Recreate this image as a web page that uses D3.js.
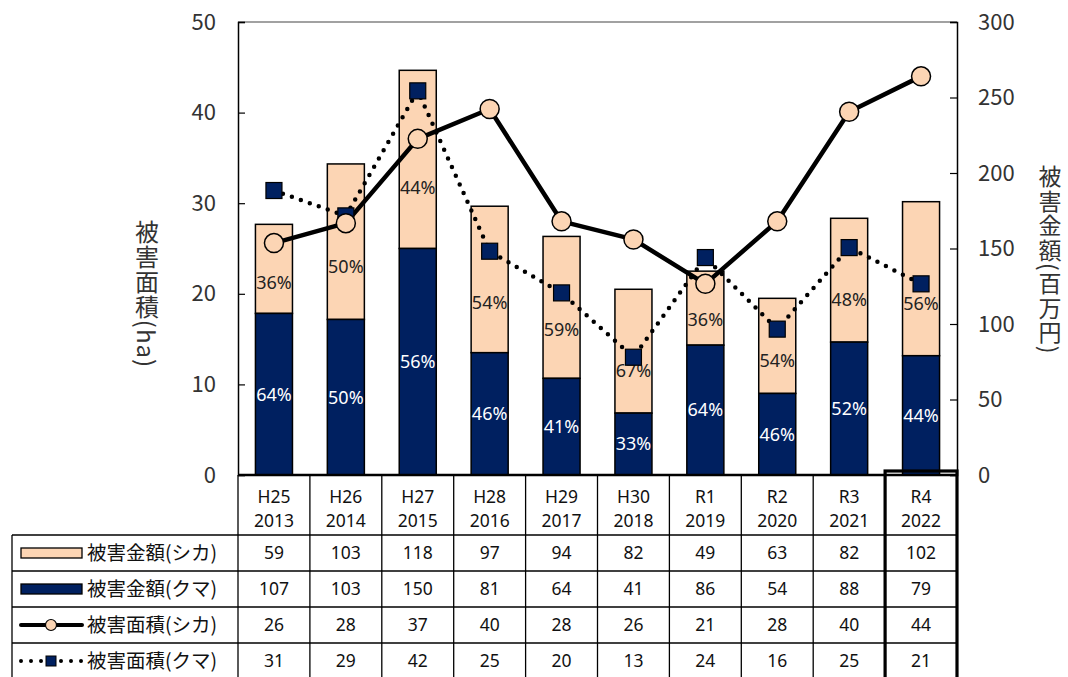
<!DOCTYPE html>
<html lang="ja">
<head>
<meta charset="UTF-8">
<title>被害面積・被害金額</title>
<style>
  body { margin: 0; background: #fff; }
  text { font-family: "Noto Sans CJK JP", "Noto Sans", sans-serif; }
  .num { font-family: "Noto Sans", "Open Sans", sans-serif; }
</style>
</head>
<body>
<svg width="1068" height="677"></svg>
<script src="https://d3js.org/d3.v7.min.js"></script>
<script>
  // values
  var eraLabels  = ['H25', 'H26', 'H27', 'H28', 'H29', 'H30', 'R1', 'R2', 'R3', 'R4'];
  var yearLabels = ['2013', '2014', '2015', '2016', '2017', '2018', '2019', '2020', '2021', '2022'];
  var moneyDeer  = [59, 103, 118, 97, 94, 82, 49, 63, 82, 102];     // 百万円
  var moneyBear  = [107, 103, 150, 81, 64, 41, 86, 54, 88, 79];     // 百万円
  var areaDeer   = [25.6, 27.8, 37.1, 40.4, 28.0, 26.0, 21.1, 28.0, 40.1, 44.0]; // ha
  var areaBear   = [31.4, 28.6, 42.4, 24.7, 20.1, 13.0, 24.0, 16.1, 25.1, 21.1]; // ha
  var leftTicks  = [0, 10, 20, 30, 40, 50];
  var rightTicks = [0, 50, 100, 150, 200, 250, 300];
  var seriesNames = ['被害金額(シカ)', '被害金額(クマ)', '被害面積(シカ)', '被害面積(クマ)'];

  var navy = '#002060';
  var peach = '#FCD5B4';

  var plotLeft = 238, plotRight = 957, plotTop = 22, plotBottom = 475;
  var tableLeft = 12, headerBottom = 535, rowHeight = 36;

  var svg = d3.select('svg');

  var x = d3.scaleBand().domain(eraLabels).range([plotLeft, plotRight]).paddingInner(0).paddingOuter(0);
  var barWidth = x.bandwidth() * 0.515;
  var yLeft = d3.scaleLinear().domain([0, 50]).range([plotBottom, plotTop]);
  var yRight = d3.scaleLinear().domain([0, 300]).range([plotBottom, plotTop]);

  // frame top line
  svg.append('line')
    .attr('x1', plotLeft).attr('x2', plotRight)
    .attr('y1', plotTop).attr('y2', plotTop)
    .attr('stroke', '#444').attr('stroke-width', 1.2);

  // axes
  var leftAxis = d3.axisRight(yLeft).tickValues(leftTicks).tickSize(7).tickFormat(d3.format('d'));
  var gl = svg.append('g').attr('transform', 'translate(' + plotLeft + ',0)').call(leftAxis);
  gl.select('.domain').attr('stroke', '#000').attr('stroke-width', 1.5);
  gl.selectAll('.tick line').attr('stroke', '#000').attr('stroke-width', 1.2);
  gl.selectAll('.tick text')
    .attr('x', -22).attr('text-anchor', 'end')
    .attr('fill', '#333').style('font-size', '22px')
    .style('font-family', '"Noto Sans CJK JP", sans-serif');

  var rightAxis = d3.axisLeft(yRight).tickValues(rightTicks).tickSize(7).tickFormat(d3.format('d'));
  var gr = svg.append('g').attr('transform', 'translate(' + plotRight + ',0)').call(rightAxis);
  gr.select('.domain').attr('stroke', '#000').attr('stroke-width', 1.5);
  gr.selectAll('.tick line').attr('stroke', '#000').attr('stroke-width', 1.2);
  gr.selectAll('.tick text')
    .attr('x', 21).attr('text-anchor', 'start')
    .attr('fill', '#333').style('font-size', '22px')
    .style('font-family', '"Noto Sans CJK JP", sans-serif');

  // axis titles, vertical writing
  svg.append('text')
    .attr('x', 147).attr('y', 294)
    .attr('text-anchor', 'middle')
    .style('writing-mode', 'vertical-rl')
    .style('letter-spacing', '1px')
    .style('font-size', '24px').attr('fill', '#333')
    .text('被害面積(ha)');

  svg.append('text')
    .attr('x', 1050).attr('y', 260)
    .attr('text-anchor', 'middle')
    .style('writing-mode', 'vertical-rl')
    .style('letter-spacing', '1.5px')
    .style('font-size', '23px').attr('fill', '#333')
    .text('被害金額(百万円)');

  // stacked bars
  var bars = svg.append('g');
  eraLabels.forEach(function(c, i) {
    var bx = x(c) + (x.bandwidth() - barWidth) / 2;
    var bear = moneyBear[i], deer = moneyDeer[i], total = bear + deer;
    bars.append('rect')
      .attr('x', bx).attr('width', barWidth)
      .attr('y', yRight(total)).attr('height', yRight(bear) - yRight(total))
      .attr('fill', peach).attr('stroke', '#000').attr('stroke-width', 1.5);
    bars.append('rect')
      .attr('x', bx).attr('width', barWidth)
      .attr('y', yRight(bear)).attr('height', yRight(0) - yRight(bear))
      .attr('fill', navy).attr('stroke', '#000').attr('stroke-width', 1.5);
  });

  // bottom axis line
  svg.append('line')
    .attr('x1', plotLeft).attr('x2', plotRight)
    .attr('y1', plotBottom).attr('y2', plotBottom)
    .attr('stroke', '#000').attr('stroke-width', 2.5);

  // lines
  var cx = function(i) { return x(eraLabels[i]) + x.bandwidth() / 2; };

  var deerLine = d3.line().x(function(d, i) { return cx(i); }).y(function(d) { return yLeft(d); });
  var bearLine = d3.line().x(function(d, i) { return cx(i); }).y(function(d) { return yLeft(d); });

  svg.append('path').datum(areaBear)
    .attr('d', bearLine).attr('fill', 'none')
    .attr('stroke', '#000').attr('stroke-width', 4.5)
    .attr('stroke-linecap', 'round').attr('stroke-dasharray', '0,9.5');

  svg.append('path').datum(areaDeer)
    .attr('d', deerLine).attr('fill', 'none')
    .attr('stroke', '#000').attr('stroke-width', 4.5)
    .attr('stroke-linejoin', 'round');

  // percentage labels
  var pct = svg.append('g').attr('text-anchor', 'middle').style('font-size', '18px');
  eraLabels.forEach(function(c, i) {
    var bear = moneyBear[i], deer = moneyDeer[i], total = bear + deer;
    var bearPct = Math.round(bear / total * 100);
    var deerPct = Math.round(deer / total * 100);
    pct.append('text').attr('class', 'num')
      .attr('x', cx(i)).attr('y', (yRight(0) + yRight(bear)) / 2)
      .attr('dy', '0.35em').attr('fill', '#fff')
      .text(bearPct + '%');
    var top = yRight(total), bot = yRight(bear);
    pct.append('text').attr('class', 'num')
      .attr('x', cx(i)).attr('y', top + (bot - top) * 0.66)
      .attr('dy', '0.35em').attr('fill', '#222')
      .text(deerPct + '%');
  });

  // markers
  svg.append('g').selectAll('rect')
    .data(areaBear).enter().append('rect')
    .attr('x', function(d, i) { return cx(i) - 8; })
    .attr('y', function(d) { return yLeft(d) - 8; })
    .attr('width', 16).attr('height', 16)
    .attr('fill', navy).attr('stroke', '#000').attr('stroke-width', 1.2);

  svg.append('g').selectAll('circle')
    .data(areaDeer).enter().append('circle')
    .attr('cx', function(d, i) { return cx(i); })
    .attr('cy', function(d) { return yLeft(d); })
    .attr('r', 9.5)
    .attr('fill', peach).attr('stroke', '#000').attr('stroke-width', 1.5);

  // data table
  var table = svg.append('g');
  var tableBottom = 700;
  var rowValues = [moneyDeer, moneyBear, areaDeer, areaBear];

  // vertical lines between columns
  for (var k = 0; k <= eraLabels.length; k++) {
    var vx = k < eraLabels.length ? x(eraLabels[k]) : plotRight;
    table.append('line')
      .attr('x1', vx).attr('x2', vx)
      .attr('y1', plotBottom).attr('y2', tableBottom)
      .attr('stroke', '#000').attr('stroke-width', 1.3);
  }
  table.append('line')
    .attr('x1', tableLeft).attr('x2', tableLeft)
    .attr('y1', headerBottom).attr('y2', tableBottom)
    .attr('stroke', '#000').attr('stroke-width', 1.3);

  // horizontal lines
  for (var r = 0; r < 4; r++) {
    var hy = headerBottom + r * rowHeight;
    table.append('line')
      .attr('x1', tableLeft).attr('x2', plotRight)
      .attr('y1', hy).attr('y2', hy)
      .attr('stroke', '#000').attr('stroke-width', 1.3);
  }

  // header cells
  eraLabels.forEach(function(c, i) {
    var t = table.append('text').attr('class', 'num')
      .attr('text-anchor', 'middle').attr('fill', '#111')
      .style('font-size', '17.5px');
    t.append('tspan').attr('x', cx(i)).attr('y', 503).text(c);
    t.append('tspan').attr('x', cx(i)).attr('y', 527).text(yearLabels[i]);
  });

  // value cells
  rowValues.forEach(function(vals, r) {
    var ry = headerBottom + r * rowHeight + rowHeight / 2;
    vals.forEach(function(v, i) {
      table.append('text').attr('class', 'num')
        .attr('x', cx(i)).attr('y', ry).attr('dy', '0.36em')
        .attr('text-anchor', 'middle').attr('fill', '#111')
        .style('font-size', '17.5px')
        .text(d3.format('.0f')(v));
    });
    table.append('text')
      .attr('x', 87).attr('y', ry).attr('dy', '0.36em')
      .attr('fill', '#111').style('font-size', '19.5px')
      .text(seriesNames[r]);
  });

  // legend keys
  var key1 = headerBottom + rowHeight / 2;
  table.append('rect').attr('x', 21).attr('y', key1 - 5).attr('width', 61).attr('height', 10)
    .attr('fill', peach).attr('stroke', '#000').attr('stroke-width', 1.3);
  var key2 = key1 + rowHeight;
  table.append('rect').attr('x', 21).attr('y', key2 - 5).attr('width', 61).attr('height', 10)
    .attr('fill', navy).attr('stroke', '#000').attr('stroke-width', 1.3);
  var key3 = key2 + rowHeight;
  table.append('line').attr('x1', 21).attr('x2', 82).attr('y1', key3).attr('y2', key3)
    .attr('stroke', '#000').attr('stroke-width', 4).attr('stroke-linecap', 'round');
  table.append('circle').attr('cx', 51).attr('cy', key3).attr('r', 5.5)
    .attr('fill', peach).attr('stroke', '#000').attr('stroke-width', 1.2);
  var key4 = key3 + rowHeight;
  table.append('line').attr('x1', 21).attr('x2', 82).attr('y1', key4).attr('y2', key4)
    .attr('stroke', '#000').attr('stroke-width', 4).attr('stroke-linecap', 'round')
    .attr('stroke-dasharray', '0,10');
  table.append('rect').attr('x', 46).attr('y', key4 - 5).attr('width', 10).attr('height', 10)
    .attr('fill', navy).attr('stroke', '#000').attr('stroke-width', 1);

  // highlight box around the latest year
  var lastX = x(eraLabels[eraLabels.length - 1]);
  table.append('rect')
    .attr('x', lastX).attr('y', 471)
    .attr('width', plotRight - lastX).attr('height', 260)
    .attr('fill', 'none').attr('stroke', '#000').attr('stroke-width', 3.2);
</script>
</body>
</html>
